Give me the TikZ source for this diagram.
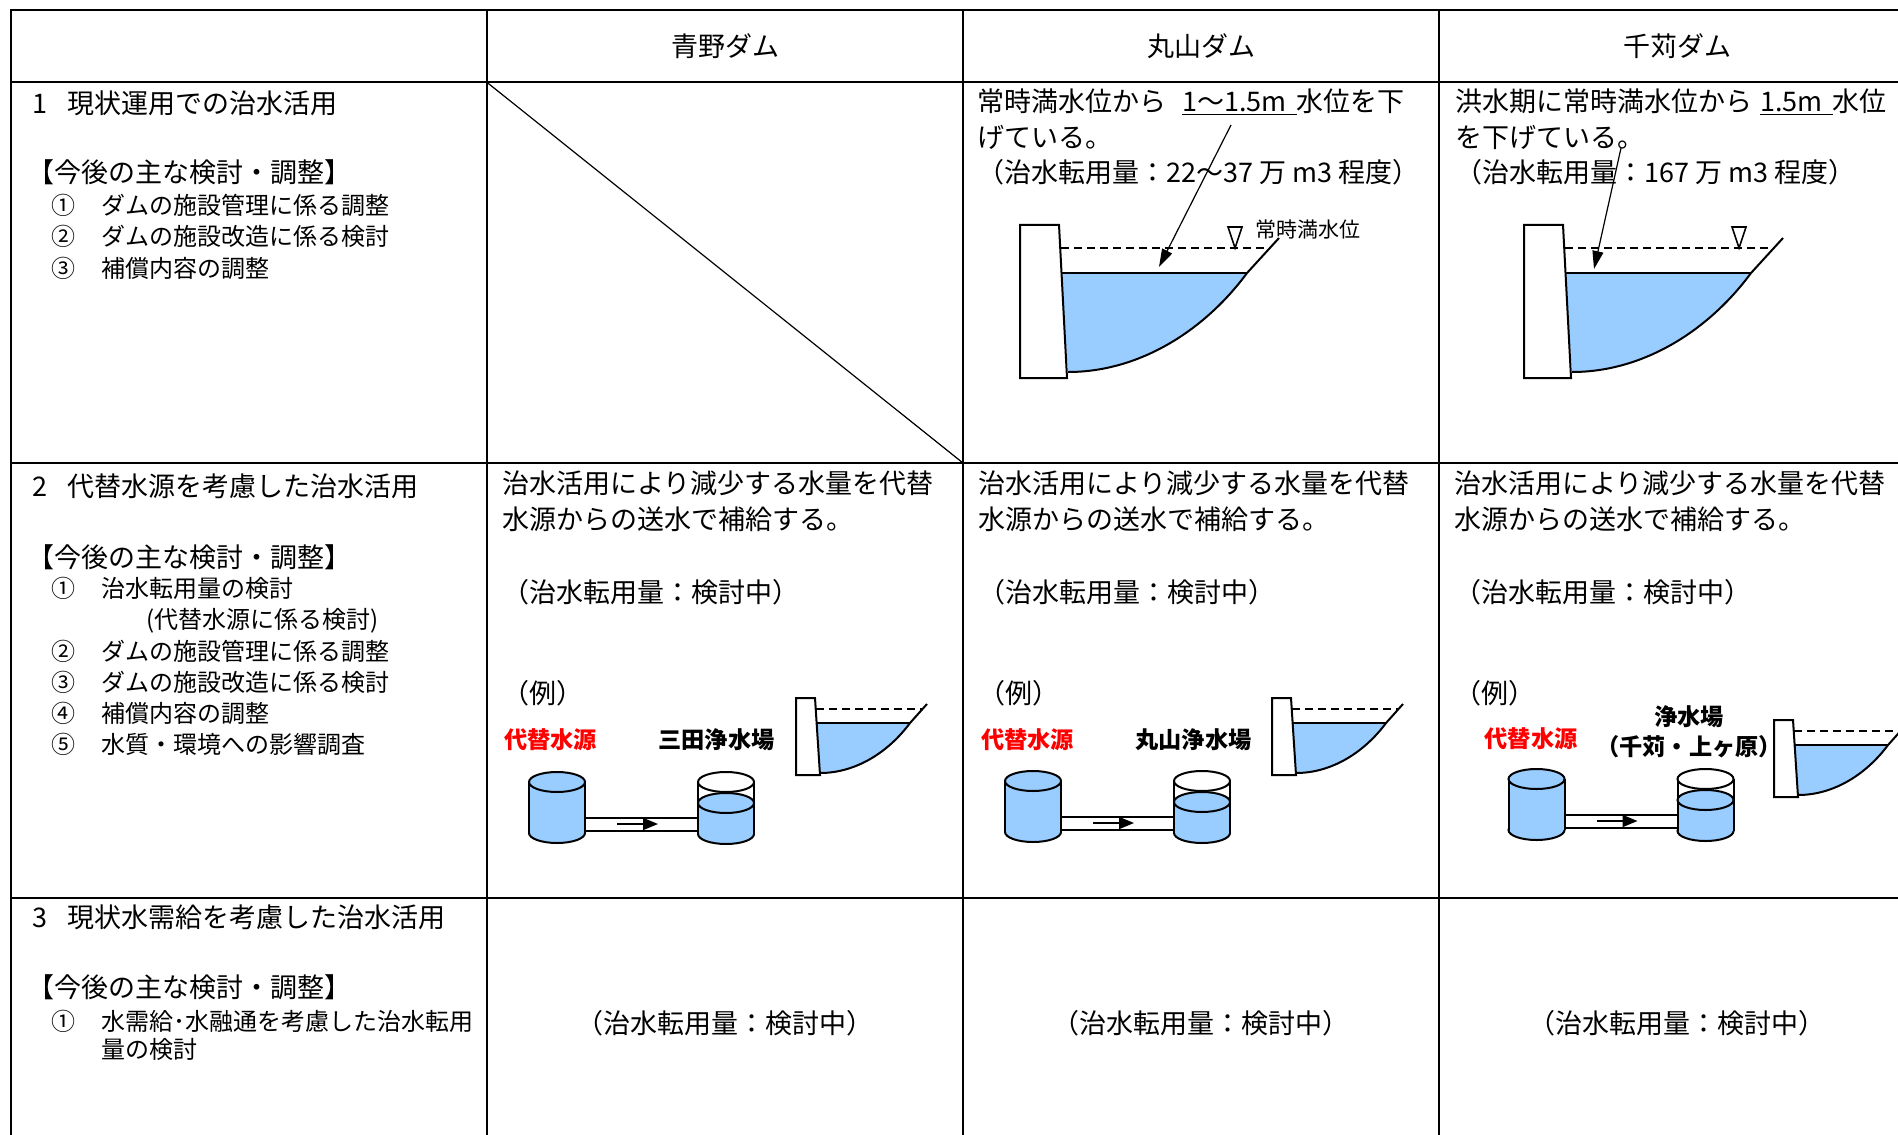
\documentclass[tikz,border=0pt]{standalone}
\usepackage{fontspec}
\usepackage{xcolor}
\usepackage{tikz}
\usetikzlibrary{arrows.meta}
\newfontfamily\jp{Noto Sans CJK JP}
\definecolor{water}{HTML}{99CCFF}
\definecolor{srcred}{HTML}{FF0000}

\tikzset{
  rule/.style={line width=1pt},
  outer/.style={line width=1.3pt},
  head/.style={inner sep=0pt, font=\jp\fontsize{13.5}{16}\selectfont},
  txt/.style={anchor=west, inner sep=0pt, font=\jp\fontsize{13.5}{17.75}\selectfont},
  para/.style={anchor=north west, inner sep=0pt, align=left, font=\jp\fontsize{13.5}{17.75}\selectfont},
  items/.style={anchor=north west, inner sep=0pt, align=left, font=\jp\fontsize{12}{15.6}\selectfont},
  lbl/.style={inner sep=0pt, align=center, font=\jp\bfseries\fontsize{11.6}{15}\selectfont},
  wall/.style={draw, line width=1pt, fill=white},
  pool/.style={fill=water},
  surf/.style={dash pattern=on 4pt off 2.5pt, line width=0.8pt},
  bank/.style={line width=1pt},
  tank/.style={draw, line width=1pt, fill=water},
  pipe/.style={draw, line width=1pt, fill=white},
  flow/.style={-{Triangle[length=7.5pt,width=6pt]}, line width=0.8pt},
  drop/.style={-{Triangle[length=9pt,width=5.5pt]}, line width=0.6pt},
}

% dam with reservoir, row 1
\newcommand{\bigdam}[2]{%
  \begin{scope}[shift={(#1,#2)}]
    \fill[pool] (41,48) -- (227,48) .. controls (185,105) and (120,147) .. (48,147) -- cycle;
    \draw[wall] (0,0) -- (39,0) -- (47,153) -- (0,153) -- cycle;
    \draw[bank] (48,147) .. controls (120,147) and (185,105) .. (227,48) -- (259,13);
    \draw[line width=1pt] (41,48) -- (227,48);
    \draw[surf] (41,23) -- (249,23);
    \draw[line width=0.8pt, fill=white] (208,2) -- (222,2) -- (215,23) -- cycle;
  \end{scope}}

% small dam, row 2
\newcommand{\smalldam}[2]{%
  \begin{scope}[shift={(#1,#2)}]
    \fill[pool] (20,25) -- (114,25) .. controls (92.5,54) and (60,75) .. (24,75) -- cycle;
    \draw[wall] (0,0) -- (19,0) -- (24,77) -- (0,77) -- cycle;
    \draw[bank] (24,75) .. controls (60,75) and (92.5,54) .. (114,25) -- (131,6);
    \draw[line width=1pt] (20,25) -- (114,25);
    \draw[surf] (20,11) -- (126,11);
  \end{scope}}

% source tank, pipe and plant tank
\newcommand{\tankpair}[3]{%
  \begin{scope}[shift={(#2,#3)}]
    \draw[pipe] (28,36) rectangle (141,49);
    \draw[tank] (0,51) ellipse [x radius=28, y radius=10];
    \fill[water] (-28,0) rectangle (28,51);
    \draw[line width=1pt] (-28,0) -- (-28,51) (28,0) -- (28,51);
    \draw[tank] (0,0) ellipse [x radius=28, y radius=10];
    \draw[tank] (169,52) ellipse [x radius=28, y radius=10];
    \fill[water] (141,21) rectangle (197,52);
    \draw[line width=1pt] (141,0) -- (141,52) (197,0) -- (197,52);
    \draw[tank] (169,21) ellipse [x radius=28, y radius=10];
    \draw[line width=1pt, fill=white] (169,0) ellipse [x radius=28, y radius=10];
    \coordinate (#1-in) at (60,42);
    \coordinate (#1-out) at (101,42);
    \draw[flow] (#1-in) -- (#1-out);
  \end{scope}}

\begin{document}
\begin{tikzpicture}[x=0.5pt, y=-0.5pt]
  \useasboundingbox (0,0) rectangle (1898,1134);
  \clip (0,0) rectangle (1898,1134);

  % table
  \draw[outer] (2000,10) -- (11,10) -- (11,1200);
  \draw[rule] (486.5,10) -- (486.5,1200);
  \draw[rule] (963,10) -- (963,1200);
  \draw[rule] (1439,10) -- (1439,1200);
  \draw[rule] (11,82) -- (2000,82);
  \draw[rule] (11,463) -- (2000,463);
  \draw[rule] (11,898) -- (2000,898);
  \draw[line width=0.6pt] (486.5,82) -- (963,463);

  % header
  \node[head] (hAono) at (725,46) {青野ダム};
  \node[head] (hMaru) at (1201,46) {丸山ダム};
  \node[head] (hSen) at (1677,46) {千苅ダム};

  % left column
  \node[txt] (c1) at (32,103) {1\hspace{10pt}現状運用での治水活用};
  \node[txt] (k1) at (27,172) {【今後の主な検討・調整】};
  \node[items] (i1) at (51,194) {①\hspace{13pt}ダムの施設管理に係る調整\\②\hspace{13pt}ダムの施設改造に係る検討\\③\hspace{13pt}補償内容の調整};

  \node[txt] (c2) at (32,486) {2\hspace{10pt}代替水源を考慮した治水活用};
  \node[txt] (k2) at (27,557) {【今後の主な検討・調整】};
  \node[items] (i2) at (51,577) {①\hspace{13pt}治水転用量の検討\\\hspace*{47.5pt}(代替水源に係る検討)\\②\hspace{13pt}ダムの施設管理に係る調整\\③\hspace{13pt}ダムの施設改造に係る検討\\④\hspace{13pt}補償内容の調整\\⑤\hspace{13pt}水質・環境への影響調査};

  \node[txt] (c3) at (32,917) {3\hspace{10pt}現状水需給を考慮した治水活用};
  \node[txt] (k3) at (27,987) {【今後の主な検討・調整】};
  \node[items, font=\jp\fontsize{12}{14}\selectfont] (i3) at (51,1010) {①\hspace{13pt}水需給･水融通を考慮した治水転用\\\hspace*{25pt}量の検討};

  % row 1
  \bigdam{1020}{225}
  \bigdam{1524}{225}
  \node[para] (m1) at (977,88.5) {常時満水位から\hspace{8pt}\underline{1〜1.5m\hspace{5pt}}水位を下\\げている。\\（治水転用量：22〜37 万 m3 程度）};
  \node[para] (s1) at (1455,88.5) {洪水期に常時満水位から\hspace{4pt}\underline{1.5m\hspace{5pt}}水位\\を下げている。\\（治水転用量：167 万 m3 程度）};
  \node[anchor=west, inner sep=0pt, font=\jp\fontsize{10.5}{12}\selectfont] (mLevel) at (1255,230) {常時満水位};
  \coordinate (mTop) at (1231,125);
  \coordinate (mEnd) at (1159,267);
  \draw[drop] (mTop) -- (mEnd);
  \coordinate (sTop) at (1621,148);
  \coordinate (sEnd) at (1594,269);
  \draw[drop] (sTop) -- (sEnd);

  % row 2
  \node[para] (a2) at (502,470.5) {治水活用により減少する水量を代替\\水源からの送水で補給する。};
  \node[txt] (a2q) at (502,592) {（治水転用量：検討中）};
  \node[txt] (a2e) at (502,693) {（例）};
  \node[lbl, text=srcred] (a2src) at (550.5,740) {代替水源};
  \node[lbl] (a2plant) at (716.5,740) {三田浄水場};
  \tankpair{a2}{557}{782}
  \smalldam{796}{698}

  \node[para] (m2) at (978,470.5) {治水活用により減少する水量を代替\\水源からの送水で補給する。};
  \node[txt] (m2q) at (978,592) {（治水転用量：検討中）};
  \node[txt] (m2e) at (978,693) {（例）};
  \node[lbl, text=srcred] (m2src) at (1027.5,740) {代替水源};
  \node[lbl] (m2plant) at (1193.5,740) {丸山浄水場};
  \tankpair{m2}{1033}{781}
  \smalldam{1272}{698}

  \node[para] (s2) at (1454,470.5) {治水活用により減少する水量を代替\\水源からの送水で補給する。};
  \node[txt] (s2q) at (1454,592) {（治水転用量：検討中）};
  \node[txt] (s2e) at (1454,693) {（例）};
  \node[lbl, text=srcred] (s2src) at (1531,739) {代替水源};
  \node[lbl] (s2plant) at (1689,732) {浄水場\\（千苅・上ヶ原）};
  \tankpair{s2}{1536.5}{779}
  \smalldam{1774}{720}

  % row 3
  \node[head] (a3) at (725,1023) {（治水転用量：検討中）};
  \node[head] (m3) at (1201,1023) {（治水転用量：検討中）};
  \node[head] (s3) at (1677,1023) {（治水転用量：検討中）};
\end{tikzpicture}
\end{document}
